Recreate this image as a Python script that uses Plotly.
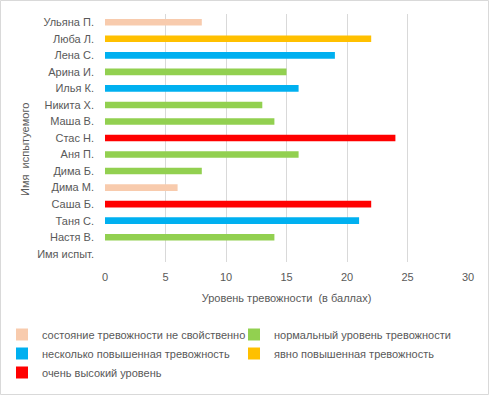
import plotly.graph_objects as go

names = ["Ульяна П.", "Люба Л.", "Лена С.", "Арина И.", "Илья К.", "Никита Х.", "Маша В.",
         "Стас Н.", "Аня П.", "Дима Б.", "Дима М.", "Саша Б.", "Таня С.", "Настя В.", "Имя испыт."]
scores = [8, 22, 19, 15, 16, 13, 14, 24, 16, 8, 6, 22, 21, 14, None]
levels = [0, 3, 2, 1, 2, 1, 1, 4, 1, 1, 0, 4, 2, 1, None]

level_names = ["состояние тревожности не свойственно", "нормальный уровень тревожности",
               "несколько повышенная тревожность", "явно повышенная тревожность",
               "очень высокий уровень"]
level_colors = ["#F8CBAD", "#92D050", "#00B0F0", "#FFC000", "#FF0000"]

x_ticks = [0, 5, 10, 15, 20, 25, 30]

W, H = 489, 395
L, R, T, B = 105, 21, 14, 133
pw, ph = W - L - R, H - T - B

def px_x(p):
    return (p - L) / pw

def px_y(p):
    return (H - B - p) / ph

fig = go.Figure()
for i, (lname, col) in enumerate(zip(level_names, level_colors)):
    vals = [s if lv == i else None for s, lv in zip(scores, levels)]
    fig.add_trace(go.Bar(y=names, x=vals, orientation="h", name=lname,
                         marker=dict(color=col, line=dict(width=0)), width=0.4))

txt = "#595959"
font = "Liberation Sans, Arial, sans-serif"
fig.update_layout(
    width=W, height=H, barmode="overlay",
    margin=dict(l=L, r=R, t=T, b=B, pad=0, autoexpand=False),
    paper_bgcolor="white", plot_bgcolor="white",
    font=dict(family=font, size=11, color=txt),
    xaxis=dict(range=[0, 30], tickvals=x_ticks, showgrid=True, gridcolor="#D9D9D9",
               gridwidth=1, zeroline=False, showline=False, ticks="", automargin=False,
               ticklabelstandoff=7, tickfont=dict(size=11, color=txt),
               title=dict(text="Уровень тревожности \u00a0(в баллах)", font=dict(size=11, color=txt), standoff=12)),
    yaxis=dict(categoryorder="array", categoryarray=names[::-1], showgrid=False,
               zeroline=False, showline=False, ticks="", ticklabelstandoff=10, automargin=False,
               tickfont=dict(size=11, color=txt)),
    legend=dict(orientation="h", x=px_x(2), y=px_y(320), xanchor="left", yanchor="top",
                entrywidth=187, entrywidthmode="pixels", traceorder="normal",
                bgcolor="rgba(0,0,0,0)",
                font=dict(size=11, color=txt), itemclick=False),
    showlegend=True,
    annotations=[dict(text="Имя \u00a0испытуемого", textangle=-90, xref="paper", yref="paper",
                      x=px_x(25), y=px_y(150), showarrow=False,
                      font=dict(size=11, color=txt), xanchor="center", yanchor="middle")],
    shapes=[dict(type="rect", xref="paper", yref="paper",
                 x0=px_x(0.5), x1=px_x(488.5), y0=px_y(394.5), y1=px_y(0.5),
                 line=dict(color="#D9D9D9", width=1), fillcolor="rgba(0,0,0,0)", layer="below")],
)

fig.write_html("out.html", config={"displayModeBar": False},
               post_script="document.body.style.margin='0';")
